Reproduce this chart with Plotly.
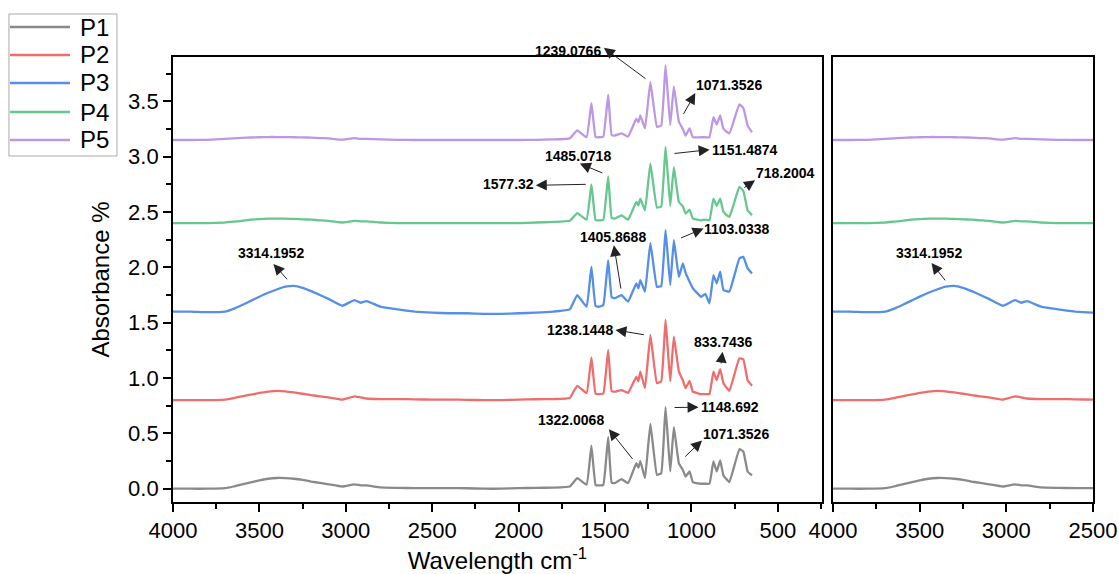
import plotly.graph_objects as go

# ---------------- data ----------------
wavenumber = [4000, 3900, 3800, 3700, 3650, 3600, 3550, 3500, 3450, 3400,
              3350, 3300, 3250, 3200, 3150, 3100,
              3020, 2950, 2915, 2880, 2800, 2700, 2600, 2500, 2400, 2300,
              2200, 2100, 2000, 1900, 1800, 1704, 1661, 1607, 1579, 1555,
              1534, 1510, 1482, 1462, 1444, 1405, 1367, 1319, 1307, 1296,
              1269, 1238, 1200, 1175, 1150, 1123, 1102, 1073, 1050, 1034,
              1011, 992, 944, 920, 896, 873, 854, 834, 815, 781,
              723, 700, 675, 650]

p1 = [0.00, 0.00, 0.00, 0.005, 0.02, 0.04, 0.058, 0.075, 0.09, 0.097,
      0.096, 0.09, 0.08, 0.065, 0.052, 0.04,
      0.02, 0.04, 0.03, 0.03, 0.012, 0.008, 0.005, 0.005, 0.005, 0.004,
      0.0, 0.0, 0.005, 0.008, 0.01, 0.02, 0.096, 0.036, 0.39, 0.035,
      0.03, 0.035, 0.466, 0.055, 0.05, 0.087, 0.05, 0.23, 0.19, 0.25,
      0.096, 0.586, 0.126, 0.14, 0.737, 0.156, 0.556, 0.23, 0.17, 0.11,
      0.156, 0.06, 0.045, 0.045, 0.045, 0.246, 0.156, 0.255, 0.12, 0.06,
      0.357, 0.336, 0.156, 0.12]

p2 = [0.80, 0.80, 0.80, 0.805, 0.818, 0.835, 0.85, 0.865, 0.877, 0.884,
      0.88, 0.87, 0.858, 0.845, 0.835, 0.825,
      0.805, 0.835, 0.825, 0.815, 0.81, 0.81, 0.807, 0.805, 0.805, 0.803,
      0.80, 0.80, 0.805, 0.808, 0.81, 0.82, 0.93, 0.863, 1.187, 0.858,
      0.855, 0.86, 1.253, 0.88, 0.877, 0.89, 0.866, 1.013, 0.97, 1.058,
      0.908, 1.389, 0.953, 0.97, 1.524, 0.97, 1.373, 1.058, 0.98, 0.908,
      0.974, 0.877, 0.855, 0.855, 0.855, 1.058, 0.98, 1.079, 0.953, 0.884,
      1.178, 1.169, 0.98, 0.93]

p3 = [1.60, 1.60, 1.595, 1.60, 1.625, 1.66, 1.697, 1.735, 1.77, 1.80,
      1.825, 1.833, 1.815, 1.785, 1.75, 1.715,
      1.653, 1.704, 1.68, 1.695, 1.645, 1.62, 1.60, 1.59, 1.585, 1.585,
      1.58, 1.58, 1.585, 1.59, 1.60, 1.62, 1.749, 1.644, 2.005, 1.65,
      1.644, 1.66, 2.065, 1.73, 1.72, 1.749, 1.69, 1.855, 1.81, 1.885,
      1.78, 2.221, 1.824, 1.83, 2.335, 1.84, 2.245, 1.914, 2.035, 1.95,
      1.87, 1.81, 1.734, 1.76, 1.675, 1.93, 1.855, 1.96, 1.795, 1.78,
      2.08, 2.095, 1.99, 1.945]

p4 = [2.40, 2.40, 2.40, 2.405, 2.412, 2.42, 2.43, 2.435, 2.44, 2.44,
      2.44, 2.437, 2.434, 2.43, 2.425, 2.42,
      2.405, 2.42, 2.415, 2.415, 2.405, 2.40, 2.40, 2.40, 2.40, 2.40,
      2.40, 2.40, 2.40, 2.405, 2.41, 2.42, 2.49, 2.43, 2.75, 2.428,
      2.425, 2.43, 2.822, 2.445, 2.44, 2.47, 2.43, 2.59, 2.56, 2.62,
      2.515, 2.937, 2.54, 2.55, 3.087, 2.555, 2.906, 2.59, 2.55, 2.485,
      2.52, 2.44, 2.425, 2.43, 2.425, 2.62, 2.555, 2.62, 2.5, 2.455,
      2.726, 2.69, 2.515, 2.47]

p5 = [3.15, 3.15, 3.152, 3.16, 3.165, 3.17, 3.173, 3.175, 3.177, 3.177,
      3.176, 3.175, 3.174, 3.172, 3.168, 3.165,
      3.153, 3.168, 3.16, 3.16, 3.155, 3.152, 3.15, 3.15, 3.15, 3.15,
      3.15, 3.15, 3.15, 3.152, 3.155, 3.165, 3.237, 3.175, 3.483, 3.178,
      3.175, 3.18, 3.559, 3.195, 3.19, 3.21, 3.18, 3.342, 3.31, 3.372,
      3.255, 3.673, 3.27, 3.28, 3.823, 3.285, 3.634, 3.315, 3.25, 3.19,
      3.255, 3.175, 3.175, 3.175, 3.175, 3.357, 3.29, 3.372, 3.25, 3.21,
      3.472, 3.44, 3.28, 3.22]

series_names = ["P1", "P2", "P3", "P4", "P5"]
series_values = [p1, p2, p3, p4, p5]
series_colors = ["#8a8a8a", "#ee6d6d", "#5590e6", "#66c78f", "#bc98e4"]

# peak labels: (text, panel, text_x, text_y, tail_x, tail_y, head_x, head_y)
peak_labels = [
    ("1239.0766", 1, 1715, 4.049, 1257, 3.694, 1507, 3.983),
    ("1071.3526", 1, 782, 3.649, 1051, 3.372, 978, 3.574),
    ("1151.4874", 1, 691, 3.057, 1107, 3.027, 895, 3.063),
    ("1485.0718", 1, 1657, 3.005, 1507, 2.847, 1646, 2.937),
    ("1577.32", 1, 2057, 2.75, 1603, 2.75, 1901, 2.741),
    ("718.2004", 1, 457, 2.852, 703, 2.711, 632, 2.786),
    ("1103.0338", 1, 734, 2.342, 1069, 2.26, 930, 2.351),
    ("1405.8688", 1, 1455, 2.275, 1407, 1.794, 1449, 2.2),
    ("3314.1952", 1, 3434, 2.126, 3332, 1.879, 3419, 2.03),
    ("1238.1448", 1, 1646, 1.434, 1267, 1.389, 1440, 1.434),
    ("833.7436", 1, 812, 1.323, 830, 1.118, 820, 1.238),
    ("1148.692", 1, 776, 0.742, 1107, 0.733, 959, 0.737),
    ("1322.0068", 1, 1695, 0.622, 1334, 0.255, 1478, 0.538),
    ("1071.3526", 1, 741, 0.496, 1045, 0.277, 939, 0.436),
    ("3314.1952", 2, 3446, 2.125, 3346, 1.869, 3432, 2.04),
]

x_ticks_left = [4000, 3500, 3000, 2500, 2000, 1500, 1000, 500]
x_ticks_right = [4000, 3500, 3000, 2500]
y_ticks = [0.0, 0.5, 1.0, 1.5, 2.0, 2.5, 3.0, 3.5]

# ---------------- figure ----------------
FONT = "Liberation Sans, Arial, Helvetica, sans-serif"
Y_RANGE = [-0.12, 3.9]
fig = go.Figure()

for name, vals, col in zip(series_names, series_values, series_colors):
    fig.add_trace(go.Scatter(x=wavenumber, y=vals, name=name, mode="lines",
                             line=dict(color=col, width=2.3, shape="spline", smoothing=0.3),
                             xaxis="x", yaxis="y", showlegend=False))
for name, vals, col in zip(series_names, series_values, series_colors):
    fig.add_trace(go.Scatter(x=wavenumber, y=vals, name=name, mode="lines",
                             line=dict(color=col, width=2.3, shape="spline", smoothing=0.3),
                             xaxis="x2", yaxis="y2", showlegend=False))

annots = []
for txt, panel, tx, ty, ax_, ay_, hx, hy in peak_labels:
    xr = "x" if panel == 1 else "x2"
    yr = "y" if panel == 1 else "y2"
    if Y_RANGE[0] <= ty <= Y_RANGE[1]:
        annots.append(dict(x=tx, y=ty, xref=xr, yref=yr, text="<b>%s</b>" % txt,
                           showarrow=False, font=dict(family=FONT, size=14, color="black")))
    else:
        # label sits above the frame: place it in paper space at the same height
        py = (ty - Y_RANGE[0]) / (Y_RANGE[1] - Y_RANGE[0])
        annots.append(dict(x=tx, y=py, xref=xr, yref="paper", text="<b>%s</b>" % txt,
                           showarrow=False, font=dict(family=FONT, size=14, color="black")))
    annots.append(dict(x=hx, y=hy, ax=ax_, ay=ay_, xref=xr, yref=yr, axref=xr, ayref=yr,
                       text="", showarrow=True, arrowhead=2, arrowsize=2.2,
                       arrowwidth=1, arrowcolor="#222222", standoff=0, startstandoff=0))

# legend drawn in paper space (box, long line samples, labels)
legend_rows_y = [1.0674, 1.0045, 0.9416, 0.8764, 0.8135]
shapes = [dict(type="rect", xref="paper", yref="paper", x0=-0.1783, x1=-0.0609,
               y0=0.7775, y1=1.0966, line=dict(color="#aaaaaa", width=1),
               fillcolor="white", layer="above")]
for name, col, ly in zip(series_names, series_colors, legend_rows_y):
    shapes.append(dict(type="line", xref="paper", yref="paper", x0=-0.1772, x1=-0.1120,
                       y0=ly, y1=ly, line=dict(color=col, width=2.3)))
    annots.append(dict(x=-0.1033, y=ly, xref="paper", yref="paper", text=name,
                       xanchor="left", yanchor="middle", showarrow=False,
                       font=dict(family=FONT, size=24, color="black")))

axis_common = dict(showline=True, linecolor="black", linewidth=1.8, mirror=True,
                   showgrid=False, zeroline=False, ticks="outside", ticklen=8,
                   tickwidth=1.8, tickcolor="black", automargin=False,
                   tickfont=dict(family=FONT, size=22, color="black"))

fig.update_layout(
    width=1119, height=574,
    margin=dict(l=173, r=26, t=57, b=72),
    paper_bgcolor="white", plot_bgcolor="white",
    font=dict(family=FONT, color="black"),
    showlegend=False,
    xaxis=dict(domain=[0, 0.7054], range=[4000, 245], tickmode="array",
               tickvals=x_ticks_left, anchor="y",
               minor=dict(dtick=250, ticks="outside", ticklen=5, tickwidth=1.5, tickcolor="black"),
               title=dict(text="Wavelength cm<sup>-1</sup>", standoff=12,
                          font=dict(family=FONT, size=24, color="black")),
               **axis_common),
    xaxis2=dict(domain=[0.7174, 1.0], range=[4000, 2500], tickmode="array",
                tickvals=x_ticks_right, anchor="y2",
                minor=dict(dtick=250, ticks="outside", ticklen=5, tickwidth=1.5, tickcolor="black"),
                **axis_common),
    yaxis=dict(range=Y_RANGE, tickmode="array", tickvals=y_ticks,
               tickformat=".1f", anchor="x",
               minor=dict(dtick=0.25, ticks="outside", ticklen=5, tickwidth=1.5, tickcolor="black"),
               title=dict(text="Absorbance %", standoff=12,
                          font=dict(family=FONT, size=24, color="black")),
               **axis_common),
    yaxis2=dict(range=Y_RANGE, anchor="x2", showticklabels=False, automargin=False,
                showline=True, linecolor="black", linewidth=1.8, mirror=True,
                showgrid=False, zeroline=False, ticks=""),
    shapes=shapes,
    annotations=annots,
)

# remove the browser's default page margin so the 1119x574 figure fills the window
fig.write_html("out.html", config={"displayModeBar": False},
               post_script="document.body.style.margin='0';document.body.style.overflow='hidden';")
